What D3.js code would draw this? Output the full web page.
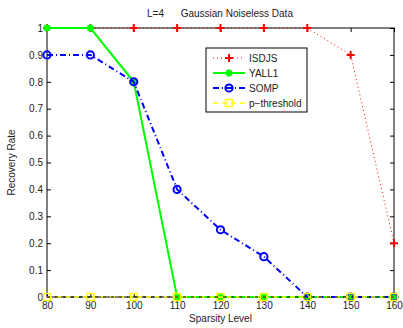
<!DOCTYPE html>
<html>
<head>
<meta charset="utf-8">
<script src="https://cdn.jsdelivr.net/npm/d3@7"></script>
<style>
  body { margin: 0; background: #fff; }
  svg { font-family: "Liberation Sans", Arial, sans-serif; }
</style>
</head>
<body>
<svg id="chart" width="403" height="328"></svg>
<script>
// Sparsity levels and recovery rates per algorithm
const sparsity = [80, 90, 100, 110, 120, 130, 140, 150, 160];
const isdjs = [1, 1, 1, 1, 1, 1, 1, 0.9, 0.2];
const yall1 = [1, 1, 0.8, 0, 0, 0, 0, 0, 0];
const somp = [0.9, 0.9, 0.8, 0.4, 0.25, 0.15, 0, 0, 0];
const pthreshold = [0, 0, 0, 0, 0, 0, 0, 0, 0];
const yTicks = [0, 0.1, 0.2, 0.3, 0.4, 0.5, 0.6, 0.7, 0.8, 0.9, 1];

const series = [
  { name: "ISDJS", values: isdjs, color: "#ff0000", dash: "1,3", width: 1, marker: "plus" },
  { name: "YALL1", values: yall1, color: "#00ff00", dash: null, width: 2, marker: "dot" },
  { name: "SOMP", values: somp, color: "#0000ff", dash: "6,3,1,3", width: 2, marker: "circle" },
  { name: "p\u2212threshold", values: pthreshold, color: "#ffff00", dash: "5,4", width: 1.5, marker: "square" }
];

const svg = d3.select("#chart");
const margin = { top: 28, right: 9, bottom: 31, left: 47 };
const width = 403 - margin.left - margin.right;
const height = 328 - margin.top - margin.bottom;

const x = d3.scaleLinear().domain([80, 160]).range([0, width]);
const y = d3.scaleLinear().domain([0, 1]).range([height, 0]);

const g = svg.append("g").attr("transform", `translate(${margin.left},${margin.top})`);

// Axes (all four sides, MATLAB style: ticks inward)
const fontSize = 10;
g.append("g").attr("transform", `translate(0,${height})`)
  .call(d3.axisBottom(x).tickValues(sparsity).tickSize(-4).tickPadding(5).tickFormat(d3.format("d")))
  .call(a => a.select(".domain").remove());
g.append("g")
  .call(d3.axisTop(x).tickValues(sparsity).tickSize(-4).tickFormat(""))
  .call(a => a.select(".domain").remove());
g.append("g")
  .call(d3.axisLeft(y).tickValues(yTicks).tickSize(-4).tickPadding(4).tickFormat(d => d === 0 || d === 1 ? d3.format("d")(d) : d3.format(".1f")(d)))
  .call(a => a.select(".domain").remove());
g.append("g").attr("transform", `translate(${width},0)`)
  .call(d3.axisRight(y).tickValues(yTicks).tickSize(-4).tickFormat(""))
  .call(a => a.select(".domain").remove());

g.selectAll(".tick text").attr("font-size", fontSize).attr("fill", "#222").attr("font-family", "Liberation Sans, Arial, sans-serif");
g.selectAll(".tick line").attr("stroke", "#000");

g.append("rect").attr("width", width).attr("height", height)
  .attr("fill", "none").attr("stroke", "#000").attr("stroke-width", 1);

function drawMarker(sel, type, color, size) {
  if (type === "plus") {
    sel.append("path").attr("d", `M${-size},0H${size}M0,${-size}V${size}`)
      .attr("stroke", color).attr("stroke-width", 2).attr("fill", "none");
  } else if (type === "dot") {
    sel.append("circle").attr("r", 3.2).attr("fill", color).attr("stroke", color);
  } else if (type === "circle") {
    sel.append("circle").attr("r", 3.6).attr("fill", "none").attr("stroke", color).attr("stroke-width", 2);
  } else if (type === "square") {
    sel.append("rect").attr("x", -3.5).attr("y", -3.5).attr("width", 7).attr("height", 7)
      .attr("fill", "none").attr("stroke", color).attr("stroke-width", 1.5);
  }
}

const line = d3.line().x(d => x(d[0])).y(d => y(d[1]));

// draw in order so later series sit on top (matching reference layering)
series.forEach(s => {
  const pts = sparsity.map((v, i) => [v, s.values[i]]);
  g.append("path").datum(pts).attr("d", line)
    .attr("fill", "none").attr("stroke", s.color).attr("stroke-width", s.width)
    .attr("stroke-dasharray", s.dash);
  pts.forEach(p => {
    const m = g.append("g").attr("transform", `translate(${x(p[0])},${y(p[1])})`);
    drawMarker(m, s.marker, s.color, 4);
  });
});

// zero-line dashes from black axis showing through, as in reference
g.append("line").attr("x1", 0).attr("x2", width).attr("y1", height).attr("y2", height)
  .attr("stroke", "#000").attr("stroke-width", 1).attr("stroke-dasharray", "3,5");

// Title
svg.append("text").attr("x", 220).attr("y", 17).attr("text-anchor", "middle")
  .attr("font-size", 10).attr("fill", "#222")
  .attr("xml:space", "preserve")
  .text("L=4      Gaussian Noiseless Data");

// Axis labels
svg.append("text").attr("x", margin.left + width / 2).attr("y", 322).attr("text-anchor", "middle")
  .attr("font-size", 10).attr("fill", "#222").text("Sparsity Level");
svg.append("text").attr("transform", `translate(15,${margin.top + height / 2}) rotate(-90)`)
  .attr("text-anchor", "middle").attr("font-size", 10).attr("fill", "#222").text("Recovery Rate");

// Legend
const leg = svg.append("g").attr("transform", "translate(206,48)");
leg.append("rect").attr("width", 101).attr("height", 64).attr("fill", "#fff").attr("stroke", "#000");
series.forEach((s, i) => {
  const yy = 10 + i * 15;
  leg.append("line").attr("x1", 7).attr("x2", 39).attr("y1", yy).attr("y2", yy)
    .attr("stroke", s.color).attr("stroke-width", s.width).attr("stroke-dasharray", s.dash);
  const m = leg.append("g").attr("transform", `translate(23,${yy})`);
  drawMarker(m, s.marker, s.color, 4);
  leg.append("text").attr("x", 43).attr("y", yy + 3.5).attr("font-size", 10).attr("fill", "#222").text(s.name);
});
</script>
</body>
</html>
